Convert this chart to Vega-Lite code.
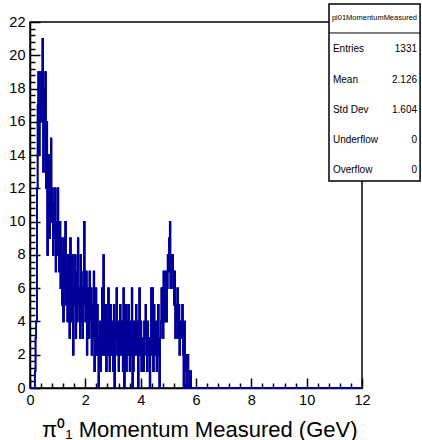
{
  "$schema": "https://vega.github.io/schema/vega-lite/v6.json",
  "width": 332,
  "height": 366,
  "autosize": {"type": "none"},
  "padding": {"left": 30, "top": 22, "right": 60, "bottom": 52},
  "background": "white",
  "config": {
    "view": {"stroke": "black", "strokeWidth": 1.5},
    "font": "Liberation Sans"
  },
  "resolve": {"axis": {"x": "independent", "y": "independent"}},
  "datasets": {
    "stats": [
      {"stat": "pi01MomentumMeasured", "value": ""},
      {"stat": "Entries", "value": "1331"},
      {"stat": "Mean", "value": "2.126"},
      {"stat": "Std Dev", "value": "1.604"},
      {"stat": "Underflow", "value": "0"},
      {"stat": "Overflow", "value": "0"}
    ],
    "hist": [
      {"x":0,"n":0},{"x":0.175,"n":1},{"x":0.2,"n":3},{"x":0.225,"n":4},{"x":0.25,"n":12},{"x":0.275,"n":17},{"x":0.3,"n":19},
      {"x":0.325,"n":14},{"x":0.35,"n":18},{"x":0.375,"n":16},{"x":0.4,"n":19},{"x":0.425,"n":17},{"x":0.45,"n":21},{"x":0.475,"n":13},{"x":0.5,"n":18},{"x":0.525,"n":15},{"x":0.55,"n":19},
      {"x":0.575,"n":12},{"x":0.6,"n":16},{"x":0.625,"n":8},{"x":0.65,"n":11},{"x":0.675,"n":14},{"x":0.7,"n":9},{"x":0.725,"n":12},{"x":0.75,"n":15},{"x":0.775,"n":10},
      {"x":0.8,"n":12},{"x":0.825,"n":8},{"x":0.85,"n":11},{"x":0.875,"n":9},{"x":0.9,"n":12},{"x":0.925,"n":7},{"x":0.95,"n":10},{"x":0.975,"n":8},{"x":1.0,"n":12},{"x":1.025,"n":9},
      {"x":1.05,"n":7},{"x":1.075,"n":10},{"x":1.1,"n":6},{"x":1.125,"n":9},{"x":1.15,"n":5},{"x":1.175,"n":8},{"x":1.2,"n":4},{"x":1.225,"n":9},{"x":1.25,"n":6},{"x":1.275,"n":10},{"x":1.3,"n":5},
      {"x":1.325,"n":7},{"x":1.35,"n":4},{"x":1.375,"n":8},{"x":1.4,"n":5},{"x":1.425,"n":3},{"x":1.45,"n":9},{"x":1.475,"n":6},{"x":1.5,"n":4},{"x":1.525,"n":8},{"x":1.55,"n":2},{"x":1.575,"n":6},
      {"x":1.6,"n":5},{"x":1.625,"n":8},{"x":1.65,"n":3},{"x":1.675,"n":7},{"x":1.7,"n":4},{"x":1.725,"n":9},{"x":1.75,"n":5},{"x":1.775,"n":6},{"x":1.8,"n":3},{"x":1.825,"n":8},{"x":1.85,"n":4},
      {"x":1.875,"n":6},{"x":1.9,"n":3},{"x":1.925,"n":7},{"x":1.95,"n":10},{"x":1.975,"n":5},{"x":2.0,"n":4},{"x":2.025,"n":7},{"x":2.05,"n":2},{"x":2.075,"n":6},{"x":2.1,"n":5},{"x":2.125,"n":3},
      {"x":2.15,"n":7},{"x":2.175,"n":4},{"x":2.2,"n":6},{"x":2.225,"n":2},{"x":2.25,"n":5},{"x":2.275,"n":3},{"x":2.3,"n":7},{"x":2.325,"n":1},{"x":2.35,"n":4},{"x":2.375,"n":6},{"x":2.4,"n":2},
      {"x":2.425,"n":5},{"x":2.45,"n":3},{"x":2.475,"n":0},{"x":2.5,"n":2},{"x":2.525,"n":4},{"x":2.55,"n":1},{"x":2.575,"n":3},{"x":2.6,"n":6},{"x":2.625,"n":2},{"x":2.65,"n":8},{"x":2.675,"n":2},
      {"x":2.7,"n":3},{"x":2.725,"n":5},{"x":2.75,"n":1},{"x":2.775,"n":4},{"x":2.8,"n":2},{"x":2.825,"n":6},{"x":2.85,"n":3},{"x":2.875,"n":1},{"x":2.9,"n":5},{"x":2.925,"n":2},{"x":2.95,"n":4},
      {"x":2.975,"n":3},{"x":3.0,"n":1},{"x":3.025,"n":5},{"x":3.05,"n":0},{"x":3.075,"n":4},{"x":3.1,"n":3},{"x":3.125,"n":6},{"x":3.15,"n":2},{"x":3.175,"n":4},{"x":3.2,"n":1},{"x":3.225,"n":3},
      {"x":3.25,"n":5},{"x":3.275,"n":2},{"x":3.3,"n":4},{"x":3.325,"n":3},{"x":3.35,"n":1},{"x":3.375,"n":6},{"x":3.4,"n":0},{"x":3.425,"n":2},{"x":3.45,"n":5},{"x":3.475,"n":1},{"x":3.5,"n":4},
      {"x":3.525,"n":2},{"x":3.55,"n":5},{"x":3.575,"n":3},{"x":3.6,"n":1},{"x":3.625,"n":4},{"x":3.65,"n":2},{"x":3.675,"n":6},{"x":3.7,"n":0},{"x":3.725,"n":1},{"x":3.75,"n":4},{"x":3.775,"n":2},
      {"x":3.8,"n":3},{"x":3.825,"n":5},{"x":3.85,"n":2},{"x":3.875,"n":4},{"x":3.9,"n":0},{"x":3.925,"n":3},{"x":3.95,"n":6},{"x":3.975,"n":2},{"x":4.0,"n":4},{"x":4.025,"n":1},{"x":4.05,"n":3},
      {"x":4.075,"n":2},{"x":4.1,"n":1},{"x":4.125,"n":4},{"x":4.15,"n":3},{"x":4.175,"n":5},{"x":4.2,"n":2},{"x":4.225,"n":1},{"x":4.25,"n":4},{"x":4.275,"n":3},{"x":4.3,"n":2},{"x":4.325,"n":0},
      {"x":4.35,"n":3},{"x":4.375,"n":6},{"x":4.4,"n":2},{"x":4.425,"n":6},{"x":4.45,"n":1},{"x":4.475,"n":5},{"x":4.5,"n":3},{"x":4.525,"n":2},{"x":4.55,"n":4},{"x":4.575,"n":1},{"x":4.6,"n":3},
      {"x":4.625,"n":5},{"x":4.65,"n":2},{"x":4.675,"n":0},{"x":4.7,"n":3},{"x":4.725,"n":4},{"x":4.75,"n":6},{"x":4.775,"n":5},{"x":4.8,"n":3},{"x":4.825,"n":7},{"x":4.85,"n":4},{"x":4.875,"n":5},
      {"x":4.9,"n":7},{"x":4.925,"n":4},{"x":4.95,"n":6},{"x":4.975,"n":8},{"x":5.0,"n":7},{"x":5.025,"n":9},{"x":5.05,"n":10},{"x":5.075,"n":6},{"x":5.1,"n":8},{"x":5.125,"n":7},{"x":5.15,"n":8},
      {"x":5.175,"n":6},{"x":5.2,"n":5},{"x":5.225,"n":7},{"x":5.25,"n":3},{"x":5.275,"n":5},{"x":5.3,"n":4},{"x":5.325,"n":6},{"x":5.35,"n":3},{"x":5.375,"n":5},{"x":5.4,"n":2},{"x":5.425,"n":4},
      {"x":5.45,"n":3},{"x":5.475,"n":4},{"x":5.5,"n":5},{"x":5.525,"n":2},{"x":5.55,"n":0},{"x":5.575,"n":4},{"x":5.6,"n":1},{"x":5.625,"n":2},{"x":5.65,"n":0},{"x":5.675,"n":1},{"x":5.7,"n":2},
      {"x":5.725,"n":1},{"x":5.75,"n":0},{"x":5.775,"n":1},{"x":5.8,"n":1},{"x":5.825,"n":0},{"x":12,"n":0}
    ]
  },
  "layer": [
    {
      "data": {"name": "hist"},
      "mark": {"type": "line", "interpolate": "step-after", "color": "#000099", "strokeWidth": 1.5},
      "encoding": {
        "x": {
          "field": "x", "type": "quantitative",
          "scale": {"domain": [0, 12], "nice": false, "zero": false},
          "axis": {
            "orient": "bottom", "offset": -5,
            "values": [0.4,0.8,1.2,1.6,2.4,2.8,3.2,3.6,4.4,4.8,5.2,5.6,6.4,6.8,7.2,7.6,8.4,8.8,9.2,9.6,10.4,10.8,11.2,11.6],
            "labels": true, "labelColor": "transparent", "domain": true, "domainColor": "transparent", "grid": false, "ticks": true,
            "tickSize": 5, "tickColor": "#000000", "tickWidth": 1.5, "tickOpacity": 1,
            "title": null
          }
        },
        "y": {
          "field": "n", "type": "quantitative",
          "scale": {"domain": [0, 22], "nice": false},
          "axis": {
            "orient": "left", "offset": -5,
            "values": [0.4,0.8,1.2,1.6,2.4,2.8,3.2,3.6,4.4,4.8,5.2,5.6,6.4,6.8,7.2,7.6,8.4,8.8,9.2,9.6,10.4,10.8,11.2,11.6,12.4,12.8,13.2,13.6,14.4,14.8,15.2,15.6,16.4,16.8,17.2,17.6,18.4,18.8,19.2,19.6,20.4,20.8,21.2,21.6],
            "labels": true, "labelColor": "transparent", "domain": true, "domainColor": "transparent", "grid": false, "ticks": true,
            "tickSize": 5, "tickColor": "#000000", "tickWidth": 1.5, "tickOpacity": 1,
            "title": null
          }
        }
      }
    },
    {
      "data": {"name": "hist"},
      "mark": {"type": "line", "interpolate": "step-after", "color": "#000099", "strokeWidth": 1.5},
      "encoding": {
        "x": {
          "field": "x", "type": "quantitative",
          "scale": {"domain": [0, 12], "nice": false, "zero": false},
          "axis": {
            "orient": "bottom", "offset": -10,
            "values": [0,2,4,6,8,10,12],
            "labels": true, "labelColor": "transparent", "domain": true, "domainColor": "transparent", "grid": false, "ticks": true,
            "tickSize": 10, "tickColor": "#000000", "tickWidth": 1.5, "tickOpacity": 1,
            "title": null
          }
        },
        "y": {
          "field": "n", "type": "quantitative",
          "scale": {"domain": [0, 22], "nice": false},
          "axis": {
            "orient": "left", "offset": -10,
            "values": [0,2,4,6,8,10,12,14,16,18,20,22],
            "labels": true, "labelColor": "transparent", "domain": true, "domainColor": "transparent", "grid": false, "ticks": true,
            "tickSize": 10, "tickColor": "#000000", "tickWidth": 1.5, "tickOpacity": 1,
            "title": null
          }
        }
      }
    },
    {
      "data": {"name": "hist"},
      "mark": {"type": "line", "interpolate": "step-after", "color": "#000099", "strokeWidth": 1.5},
      "encoding": {
        "x": {
          "field": "x", "type": "quantitative",
          "scale": {"domain": [0, 12], "nice": false, "zero": false},
          "axis": {
            "orient": "bottom",
            "values": [0,2,4,6,8,10,12],
            "format": "d",
            "ticks": true, "tickSize": 0, "tickColor": "transparent",
            "domainColor": "black", "domainWidth": 1.5,
            "grid": false,
            "labelFont": "Liberation Sans", "labelFontSize": 14.5, "labelColor": "black",
            "labelPadding": 5, "labelFlush": false, "labelOverlap": false,
            "title": "π⁰₁ Momentum Measured (GeV)",
            "titleFont": "Liberation Sans", "titleFontSize": 22, "titleFontWeight": "normal", "titleColor": "black",
            "titleAlign": "right", "titleBaseline": "alphabetic", "titleX": 327, "titleY": 48
          }
        },
        "y": {
          "field": "n", "type": "quantitative",
          "scale": {"domain": [0, 22], "nice": false},
          "axis": {
            "orient": "left",
            "values": [0,2,4,6,8,10,12,14,16,18,20,22],
            "format": "d",
            "ticks": true, "tickSize": 0, "tickColor": "transparent",
            "domainColor": "black", "domainWidth": 1.5,
            "grid": false,
            "labelFont": "Liberation Sans", "labelFontSize": 14.5, "labelColor": "black",
            "labelPadding": 5, "labelFlush": false, "labelOverlap": false,
            "title": null
          }
        }
      }
    },
    {
      "data": {"name": "stats"},
      "transform": [{"filter": "datum.stat === 'Entries'"}],
      "mark": {"type": "rect", "fill": "white", "stroke": "black", "strokeWidth": 1.5},
      "encoding": {
        "x": {"datum": 10.807, "axis": null}, "x2": {"datum": 14.1},
        "y": {"datum": 23.08, "axis": null}, "y2": {"datum": 12.44}
      }
    },
    {
      "data": {"name": "stats"},
      "transform": [{"filter": "datum.stat === 'Entries'"}],
      "mark": {"type": "rule", "color": "black", "strokeWidth": 1},
      "encoding": {
        "x": {"datum": 10.807, "axis": null}, "x2": {"datum": 14.1},
        "y": {"datum": 21.34, "axis": null}
      }
    },
    {
      "data": {"name": "stats"},
      "transform": [{"filter": "datum.stat === 'pi01MomentumMeasured'"}],
      "mark": {"type": "text", "align": "center", "baseline": "middle", "fontSize": 7.5, "font": "Liberation Sans", "color": "black"},
      "encoding": {"x": {"datum": 12.45, "axis": null}, "y": {"datum": 22.24, "axis": null}, "text": {"field": "stat"}}
    },
    {
      "data": {"name": "stats"},
      "transform": [{"filter": "datum.stat === 'Entries'"}],
      "mark": {"type": "text", "align": "left", "baseline": "middle", "fontSize": 10, "font": "Liberation Sans", "color": "black"},
      "encoding": {"x": {"datum": 10.95, "axis": null}, "y": {"datum": 20.38, "axis": null}, "text": {"field": "stat"}}
    },
    {
      "data": {"name": "stats"},
      "transform": [{"filter": "datum.stat === 'Entries'"}],
      "mark": {"type": "text", "align": "right", "baseline": "middle", "fontSize": 10, "font": "Liberation Sans", "color": "black"},
      "encoding": {"x": {"datum": 13.99, "axis": null}, "y": {"datum": 20.38, "axis": null}, "text": {"field": "value"}}
    },
    {
      "data": {"name": "stats"},
      "transform": [{"filter": "datum.stat === 'Mean'"}],
      "mark": {"type": "text", "align": "left", "baseline": "middle", "fontSize": 10, "font": "Liberation Sans", "color": "black"},
      "encoding": {"x": {"datum": 10.95, "axis": null}, "y": {"datum": 18.51, "axis": null}, "text": {"field": "stat"}}
    },
    {
      "data": {"name": "stats"},
      "transform": [{"filter": "datum.stat === 'Mean'"}],
      "mark": {"type": "text", "align": "right", "baseline": "middle", "fontSize": 10, "font": "Liberation Sans", "color": "black"},
      "encoding": {"x": {"datum": 13.99, "axis": null}, "y": {"datum": 18.51, "axis": null}, "text": {"field": "value"}}
    },
    {
      "data": {"name": "stats"},
      "transform": [{"filter": "datum.stat === 'Std Dev'"}],
      "mark": {"type": "text", "align": "left", "baseline": "middle", "fontSize": 10, "font": "Liberation Sans", "color": "black"},
      "encoding": {"x": {"datum": 10.95, "axis": null}, "y": {"datum": 16.71, "axis": null}, "text": {"field": "stat"}}
    },
    {
      "data": {"name": "stats"},
      "transform": [{"filter": "datum.stat === 'Std Dev'"}],
      "mark": {"type": "text", "align": "right", "baseline": "middle", "fontSize": 10, "font": "Liberation Sans", "color": "black"},
      "encoding": {"x": {"datum": 13.99, "axis": null}, "y": {"datum": 16.71, "axis": null}, "text": {"field": "value"}}
    },
    {
      "data": {"name": "stats"},
      "transform": [{"filter": "datum.stat === 'Underflow'"}],
      "mark": {"type": "text", "align": "left", "baseline": "middle", "fontSize": 10, "font": "Liberation Sans", "color": "black"},
      "encoding": {"x": {"datum": 10.95, "axis": null}, "y": {"datum": 14.9, "axis": null}, "text": {"field": "stat"}}
    },
    {
      "data": {"name": "stats"},
      "transform": [{"filter": "datum.stat === 'Underflow'"}],
      "mark": {"type": "text", "align": "right", "baseline": "middle", "fontSize": 10, "font": "Liberation Sans", "color": "black"},
      "encoding": {"x": {"datum": 13.99, "axis": null}, "y": {"datum": 14.9, "axis": null}, "text": {"field": "value"}}
    },
    {
      "data": {"name": "stats"},
      "transform": [{"filter": "datum.stat === 'Overflow'"}],
      "mark": {"type": "text", "align": "left", "baseline": "middle", "fontSize": 10, "font": "Liberation Sans", "color": "black"},
      "encoding": {"x": {"datum": 10.95, "axis": null}, "y": {"datum": 13.1, "axis": null}, "text": {"field": "stat"}}
    },
    {
      "data": {"name": "stats"},
      "transform": [{"filter": "datum.stat === 'Overflow'"}],
      "mark": {"type": "text", "align": "right", "baseline": "middle", "fontSize": 10, "font": "Liberation Sans", "color": "black"},
      "encoding": {"x": {"datum": 13.99, "axis": null}, "y": {"datum": 13.1, "axis": null}, "text": {"field": "value"}}
    }
  ]
}
